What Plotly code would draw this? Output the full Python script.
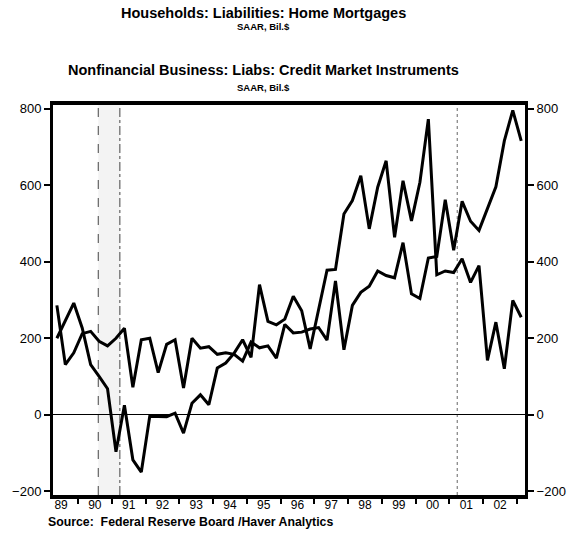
import plotly.graph_objects as go

# Quarterly observations, 1989Q2 through 2003Q1 (SAAR, Bil.$)
first_year = 1989
first_quarter = 2
home_mortgages = [
    286, 131, 162, 212, 218, 192, 180, 200, 226, 72,
    196, 200, 110, 184, 196, 70, 200, 174, 178, 158,
    162, 158, 140, 190, 175, 180, 148, 236, 214, 216,
    224, 228, 195, 350, 170, 286, 320, 336, 376, 364,
    358, 450, 316, 304, 410, 414, 562, 430, 558, 506,
    482, 538, 596, 716, 796, 716,
]
business_credit = [
    200, 245, 292, 227, 131, 100, 68, -97, 25, -118,
    -150, -4, -4, -5, 4, -48, 30, 52, 26, 122,
    135, 161, 196, 150, 340, 244, 235, 250, 310, 272,
    172, 276, 378, 380, 525, 560, 625, 486, 595, 664,
    464, 612, 507, 608, 773, 366, 376, 372, 408, 346,
    390, 142, 242, 120, 299, 255,
]
year_labels = ["89", "90", "91", "92", "93", "94", "95", "96",
               "97", "98", "99", "00", "01", "02"]
y_ticks = [-200, 0, 200, 400, 600, 800]

# recession band (1990Q3-1991Q1) and the 2001 peak marker
recession_start, recession_end = 1990.6, 1991.24
peak_2001 = 2001.23

# decimal-year position of each quarter (mid-quarter)
n = len(home_mortgages)
t = []
for k in range(n):
    q = first_quarter - 1 + k
    t.append(first_year + q // 4 + (q % 4) * 0.25 + 0.125)

x_range = [1989.26, 2003.237]
y_range = [-210, 810]

txt_font = "Liberation Sans, Arial, sans-serif"
tick_font = dict(family=txt_font, size=13, color="black")

fig = go.Figure()

fig.add_trace(go.Scatter(x=t, y=business_credit, mode="lines",
                         line=dict(color="black", width=3),
                         name="Nonfinancial Business", showlegend=False))
fig.add_trace(go.Scatter(x=t, y=home_mortgages, mode="lines",
                         line=dict(color="black", width=3),
                         name="Home Mortgages", showlegend=False,
                         yaxis="y2"))

# shaded recession
fig.add_shape(type="rect", xref="x", yref="paper",
              x0=recession_start, x1=recession_end, y0=0, y1=1,
              fillcolor="#f3f3f3", line=dict(width=0), layer="below")
fig.add_shape(type="line", xref="x", yref="paper",
              x0=recession_start, x1=recession_start, y0=0, y1=1,
              line=dict(color="#444444", width=1, dash="dash"), layer="below")
fig.add_shape(type="line", xref="x", yref="paper",
              x0=recession_end, x1=recession_end, y0=0, y1=1,
              line=dict(color="#444444", width=1, dash="dashdot"), layer="below")
fig.add_shape(type="line", xref="x", yref="paper",
              x0=peak_2001, x1=peak_2001, y0=0, y1=1,
              line=dict(color="#666666", width=1, dash="dot"), layer="below")

# titles and source
def note(text, y, size, x=0.446, anchor="center"):
    fig.add_annotation(text=text, xref="paper", yref="paper", x=x, y=y,
                       xanchor=anchor, yanchor="middle", showarrow=False,
                       borderpad=0,
                       font=dict(family=txt_font, size=size, color="black"))

note("<b>Households: Liabilities: Home Mortgages</b>", 1.2370, 14.5)
note("<b>SAAR, Bil.$</b>", 1.2010, 9.5)
note("<b>Nonfinancial Business: Liabs: Credit Market Instruments</b>", 1.0900, 14.5)
note("<b>SAAR, Bil.$</b>", 1.0460, 9.5)
note("<b>Source:  Federal Reserve Board /Haver Analytics</b>", -0.0690, 12.3,
     x=-0.012, anchor="left")

fig.update_layout(
    width=578, height=544,
    margin=dict(l=47.5, r=43, t=104.5, b=49, pad=0),
    paper_bgcolor="white", plot_bgcolor="white",
    xaxis=dict(range=x_range, showgrid=False, zeroline=False,
               tickmode="array",
               tickvals=[first_year + 0.5 + k for k in range(len(year_labels))],
               ticktext=year_labels, ticks="", ticklabelstandoff=-4,
               tickfont=dict(family=txt_font, size=12, color="black"),
               minor=dict(tickmode="array",
                          tickvals=list(range(1990, 2004)),
                          ticks="outside", ticklen=5, tickwidth=2,
                          tickcolor="black", showgrid=False),
               showline=True, linecolor="black", linewidth=4, mirror=True),
    yaxis=dict(range=y_range, tickmode="array", tickvals=y_ticks,
               showgrid=False, zeroline=True, zerolinecolor="black",
               zerolinewidth=1, ticks="outside", ticklen=6, tickwidth=2,
               tickcolor="black", tickfont=tick_font,
               showline=True, linecolor="black", linewidth=3),
    yaxis2=dict(range=y_range, tickmode="array", tickvals=y_ticks,
                overlaying="y", side="right", showgrid=False, zeroline=False,
                ticks="outside", ticklen=6, tickwidth=2, tickcolor="black",
                tickfont=tick_font, showline=True, linecolor="black",
                linewidth=3),
)

fig.write_html("out.html")
